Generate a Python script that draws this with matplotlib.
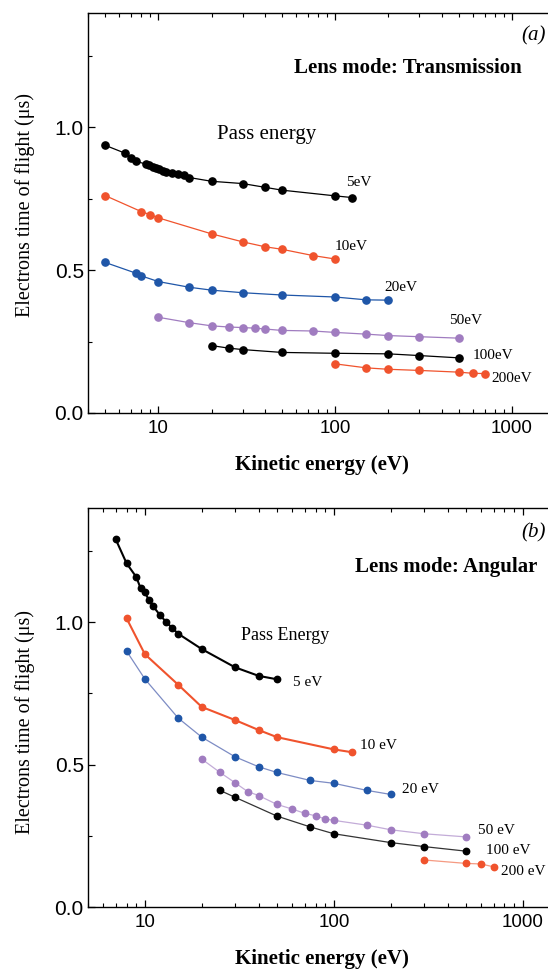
import numpy as np
import matplotlib.pyplot as plt
from matplotlib.ticker import MultipleLocator, LogLocator, NullFormatter, FixedLocator, FixedFormatter

# ---- panel (a): lens mode Transmission ----
a_5_x = [5, 6.5, 7, 7.5, 8.5, 8.9, 9.3, 9.7, 10.1, 10.6, 11.1, 12, 13, 14, 15, 20, 30, 40, 50, 100, 125]
a_5_y = [0.937, 0.909, 0.894, 0.881, 0.871, 0.867, 0.862, 0.857, 0.853, 0.848, 0.845, 0.841, 0.836,
         0.832, 0.824, 0.811, 0.803, 0.790, 0.780, 0.760, 0.754]
a_10_x = [5, 8, 9, 10, 20, 30, 40, 50, 75, 100]
a_10_y = [0.761, 0.705, 0.694, 0.683, 0.627, 0.599, 0.582, 0.573, 0.551, 0.539]
a_20_x = [5, 7.5, 8, 10, 15, 20, 30, 50, 100, 150, 200]
a_20_y = [0.527, 0.489, 0.480, 0.460, 0.440, 0.430, 0.421, 0.413, 0.406, 0.396, 0.395]
a_50_x = [10, 15, 20, 25, 30, 35, 40, 50, 75, 100, 150, 200, 300, 500]
a_50_y = [0.335, 0.316, 0.305, 0.301, 0.299, 0.297, 0.294, 0.289, 0.287, 0.282, 0.276, 0.271, 0.267, 0.262]
a_100_x = [20, 25, 30, 50, 100, 200, 300, 500]
a_100_y = [0.236, 0.227, 0.222, 0.212, 0.209, 0.207, 0.201, 0.193]
a_200_x = [100, 150, 200, 300, 500, 600, 700]
a_200_y = [0.172, 0.158, 0.153, 0.149, 0.143, 0.139, 0.138]

# ---- panel (b): lens mode Angular ----
b_5_x = [7, 8, 9, 9.5, 10, 10.5, 11, 12, 13, 14, 15, 20, 30, 40, 50]
b_5_y = [1.291, 1.206, 1.158, 1.118, 1.104, 1.077, 1.057, 1.025, 0.999, 0.978, 0.959, 0.905, 0.841, 0.811, 0.799]
b_10_x = [8, 10, 15, 20, 30, 40, 50, 100, 125]
b_10_y = [1.013, 0.887, 0.780, 0.702, 0.656, 0.621, 0.596, 0.553, 0.543]
b_20_x = [8, 10, 15, 20, 30, 40, 50, 75, 100, 150, 200]
b_20_y = [0.898, 0.800, 0.663, 0.596, 0.527, 0.492, 0.472, 0.444, 0.434, 0.409, 0.395]
b_50_x = [20, 25, 30, 35, 40, 50, 60, 70, 80, 90, 100, 150, 200, 300, 500]
b_50_y = [0.519, 0.472, 0.436, 0.405, 0.391, 0.360, 0.344, 0.329, 0.320, 0.309, 0.304, 0.287, 0.271, 0.257, 0.246]
b_100_x = [25, 30, 50, 75, 100, 200, 300, 500]
b_100_y = [0.409, 0.385, 0.319, 0.281, 0.257, 0.226, 0.212, 0.196]
b_200_x = [300, 500, 600, 700]
b_200_y = [0.165, 0.153, 0.151, 0.141]

BLACK = "#000000"
RED = "#f0532d"
BLUE = "#1f56a8"
PURPLE = "#a07cc0"

serif = ["Liberation Serif", "DejaVu Serif"]
sans = ["Liberation Sans", "DejaVu Sans"]

fig = plt.figure(figsize=(5.48, 9.71), dpi=100)
W, H = 548.0, 971.0

ax_a = fig.add_axes([88 / W, (H - 413) / H, 460 / W, 400 / H])
ax_b = fig.add_axes([88 / W, (H - 907) / H, 460 / W, 399 / H])

# series: (x, y, colour, line colour, line width, label, label x, label y)
series_a = [
    (a_5_x, a_5_y, BLACK, BLACK, 0.9, "5eV", 116, 0.807),
    (a_10_x, a_10_y, RED, RED, 0.9, "10eV", 100, 0.582),
    (a_20_x, a_20_y, BLUE, BLUE, 0.9, "20eV", 190, 0.440),
    (a_50_x, a_50_y, PURPLE, PURPLE, 0.9, "50eV", 440, 0.323),
    (a_100_x, a_100_y, BLACK, BLACK, 0.9, "100eV", 601, 0.201),
    (a_200_x, a_200_y, RED, RED, 0.9, "200eV", 767, 0.122),
]
series_b = [
    (b_5_x, b_5_y, BLACK, BLACK, 1.5, "5 eV", 61, 0.788),
    (b_10_x, b_10_y, RED, RED, 1.5, "10 eV", 138, 0.568),
    (b_20_x, b_20_y, BLUE, "#7d8cc4", 0.9, "20 eV", 229, 0.411),
    (b_50_x, b_50_y, PURPLE, "#c3acd8", 0.9, "50 eV", 582, 0.267),
    (b_100_x, b_100_y, BLACK, "#333333", 0.9, "100 eV", 637, 0.198),
    (b_200_x, b_200_y, RED, "#f59a82", 0.9, "200 eV", 771, 0.124),
]

for ax, series, ms in [(ax_a, series_a, 5.2), (ax_b, series_b, 4.6)]:
    for x, y, c, lc, lw, lab, lx, ly in series:
        ax.plot(x, y, color=lc, lw=lw, zorder=2)
        ax.plot(x, y, "o", color=c, ms=ms, mec=c, zorder=3)
        ax.text(lx, ly, lab, fontsize=11, family=serif, ha="left", va="center")

ax_a.set_xlim(4, 1600)
ax_b.set_xlim(5, 1360)

for ax in (ax_a, ax_b):
    ax.set_xscale("log")
    ax.set_ylim(0, 1.4)
    ax.xaxis.set_major_locator(FixedLocator([10, 100, 1000]))
    ax.xaxis.set_major_formatter(FixedFormatter(["10", "100", "1000"]))
    ax.xaxis.set_minor_locator(LogLocator(base=10, subs=np.arange(2, 10)))
    ax.xaxis.set_minor_formatter(NullFormatter())
    ax.yaxis.set_major_locator(FixedLocator([0.0, 0.5, 1.0]))
    ax.yaxis.set_major_formatter(FixedFormatter(["0.0", "0.5", "1.0"]))
    ax.yaxis.set_minor_locator(MultipleLocator(0.25))
    ax.tick_params(which="both", direction="in", top=True, right=False)
    ax.tick_params(which="major", length=5, width=0.9)
    ax.tick_params(which="minor", length=3, width=0.8)
    ax.tick_params(axis="x", which="major", labelsize=13.5, pad=5)
    ax.tick_params(axis="y", which="major", labelsize=15, pad=3)
    for lbl in ax.get_xticklabels() + ax.get_yticklabels():
        lbl.set_family(sans)
    ax.spines["right"].set_visible(False)
    for s in ("left", "top", "bottom"):
        ax.spines[s].set_linewidth(1.0)
    ax.text(0.509, -0.13, "Kinetic energy (eV)", transform=ax.transAxes, fontsize=15,
            fontweight="bold", family=serif, ha="center", va="center")

ax_a.text(-0.137, 0.52, "Electrons time of flight (\u03bcs)", transform=ax_a.transAxes,
          fontsize=14.5, family=serif, rotation=90, ha="center", va="center")
ax_b.text(-0.137, 0.464, "Electrons time of flight (\u03bcs)", transform=ax_b.transAxes,
          fontsize=14.5, family=serif, rotation=90, ha="center", va="center")

ax_a.text(21.6, 0.975, "Pass energy", fontsize=15, family=serif, ha="left", va="center")
ax_b.text(32.2, 0.951, "Pass Energy", fontsize=13, family=serif, ha="left", va="center")

ax_a.text((522 - 88) / 460, (413 - 68) / 400, "Lens mode: Transmission", transform=ax_a.transAxes,
          fontsize=15, fontweight="bold", family=serif, ha="right", va="center")
ax_b.text((537 - 88) / 460, (907 - 567) / 399, "Lens mode: Angular", transform=ax_b.transAxes,
          fontsize=15, fontweight="bold", family=serif, ha="right", va="center")

ax_a.text((546 - 88) / 460, (413 - 36) / 400, "(a)", transform=ax_a.transAxes,
          fontsize=15, style="italic", family=serif, ha="right", va="center")
ax_b.text((546 - 88) / 460, (907 - 533) / 399, "(b)", transform=ax_b.transAxes,
          fontsize=15, style="italic", family=serif, ha="right", va="center")

fig.savefig("out.png", dpi=100)
